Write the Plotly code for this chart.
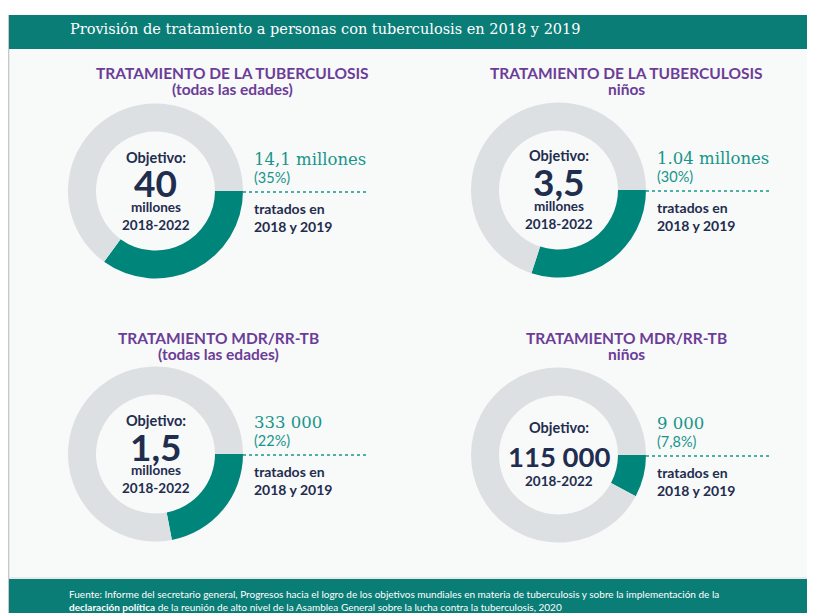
import plotly.graph_objects as go

# The page body adds an 8px margin, so the figure is shrunk and coordinates are shifted.
OFF = 8
W, H = 815 - 2 * OFF, 613 - OFF

# ---- data ----
titles = ["TRATAMIENTO DE LA TUBERCULOSIS", "TRATAMIENTO DE LA TUBERCULOSIS",
          "TRATAMIENTO MDR/RR-TB", "TRATAMIENTO MDR/RR-TB"]
subtitles = ["(todas las edades)", "niños", "(todas las edades)", "niños"]
targets = ["40", "3,5", "1,5", "115 000"]
target_units = ["millones", "millones", "millones", ""]
target_periods = ["2018-2022", "2018-2022", "2018-2022", "2018-2022"]
treated_labels = ["14,1 millones", "1.04 millones", "333 000", "9 000"]
pct_labels = ["(35%)", "(30%)", "(22%)", "(7,8%)"]
pct_values = [35, 30, 22, 7.8]
treated_text = ["tratados en<br>2018 y 2019"] * 4

header = "Provisión de tratamiento a personas con tuberculosis en 2018 y 2019"
footer = ("Fuente: Informe del secretario general, Progresos hacia el logro de los objetivos mundiales "
          "en materia de tuberculosis y sobre la implementación de la<br><b>declaración política</b> "
          "de la reunión de alto nivel de la Asamblea General sobre la lucha contra la tuberculosis, 2020")

# ---- style ----
TEAL = "#00857a"
TEAL_HDR = "#0b7d77"
TEAL_TXT = "#17958a"
GREY = "#dde0e2"
PURPLE = "#6b3d98"
NAVY = "#1f2d4e"
BG = "#f8f9f9"
SANS = "Lato, 'Open Sans', sans-serif"
SLAB = "'DejaVu Serif', serif"

# panel geometry (window pixels): donut centre, radius, title centre x, title y
centers = [(155.5, 191), (558.5, 190), (155.5, 454), (558.5, 455)]
R = 87.5
title_x = [232, 626, 218, 626]
title_y = [73, 338]


def fx(x):
    return (x - OFF) / W


def fy(y):
    return 1 - (y - OFF) / H


fig = go.Figure()
annotations = []
shapes = []

# background panels
shapes.append(dict(type="rect", xref="paper", yref="paper", x0=fx(9), x1=1, y0=0, y1=fy(15),
                   fillcolor=BG, line_width=0, layer="below"))
shapes.append(dict(type="line", xref="paper", yref="paper", x0=fx(8.6), x1=fx(8.6), y0=0, y1=fy(15),
                   line=dict(color="#c8c8c8", width=1.5), layer="below"))
shapes.append(dict(type="rect", xref="paper", yref="paper", x0=fx(9), x1=1, y0=fy(49), y1=fy(15),
                   fillcolor=TEAL_HDR, line_width=0, layer="below"))
shapes.append(dict(type="rect", xref="paper", yref="paper", x0=fx(9), x1=1, y0=0, y1=fy(579),
                   fillcolor=TEAL_HDR, line_width=0, layer="below"))
shapes.append(dict(type="line", xref="paper", yref="paper", x0=fx(9), x1=1, y0=fy(578), y1=fy(578),
                   line=dict(color="#d5d8d8", width=1), layer="below"))

annotations.append(dict(text=header, x=fx(68), y=fy(29), xref="paper", yref="paper",
                        xanchor="left", yanchor="middle", showarrow=False,
                        font=dict(family=SLAB, size=14.5, color="white")))
annotations.append(dict(text=footer, x=fx(67), y=fy(600), xref="paper", yref="paper",
                        xanchor="left", yanchor="middle", showarrow=False, align="left",
                        font=dict(family=SANS, size=10, color="white")))

for i in range(4):
    cx, cy = centers[i]
    row = 0 if i < 2 else 1
    fig.add_trace(go.Pie(
        values=[pct_values[i], 100 - pct_values[i]],
        labels=["tratados", "restante"],
        marker=dict(colors=[TEAL, GREY], line=dict(width=0)),
        hole=0.68, sort=False, direction="clockwise", rotation=90,
        textinfo="none", hoverinfo="skip", showlegend=False,
        domain=dict(x=[fx(cx - R), fx(cx + R)], y=[fy(cy + R), fy(cy - R)]),
    ))
    # titles
    annotations.append(dict(text="<b>" + titles[i] + "</b>", x=fx(title_x[i]), y=fy(title_y[row]),
                            xref="paper", yref="paper", showarrow=False, xanchor="center", yanchor="middle",
                            font=dict(family=SANS, size=15.5, color=PURPLE)))
    annotations.append(dict(text="<b>" + subtitles[i] + "</b>", x=fx(title_x[i]), y=fy(title_y[row] + 16),
                            xref="paper", yref="paper", showarrow=False, xanchor="center", yanchor="middle",
                            font=dict(family=SANS, size=15.5, color=PURPLE)))
    # centre text
    if target_units[i]:
        oy, ty, uy, py_ = cy - 34, cy - 8, cy + 16, cy + 34
        tsize = 37
    else:
        oy, ty, py_ = cy - 28, cy + 1, cy + 26
        tsize = 27.5
    annotations.append(dict(text="<b>Objetivo:</b>", x=fx(cx), y=fy(oy), xref="paper", yref="paper",
                            showarrow=False, xanchor="center", yanchor="middle",
                            font=dict(family=SANS, size=14.5, color=NAVY)))
    annotations.append(dict(text="<b>" + targets[i] + "</b>", x=fx(cx), y=fy(ty), xref="paper", yref="paper",
                            showarrow=False, xanchor="center", yanchor="middle",
                            font=dict(family=SANS, size=tsize, color=NAVY)))
    if target_units[i]:
        annotations.append(dict(text="<b>" + target_units[i] + "</b>", x=fx(cx), y=fy(uy), xref="paper",
                                yref="paper", showarrow=False, xanchor="center", yanchor="middle",
                                font=dict(family=SANS, size=13.5, color=NAVY)))
    annotations.append(dict(text="<b>" + target_periods[i] + "</b>", x=fx(cx), y=fy(py_), xref="paper",
                            yref="paper", showarrow=False, xanchor="center", yanchor="middle",
                            font=dict(family=SANS, size=13.5, color=NAVY)))
    # right side text
    lx = cx + R + 9
    annotations.append(dict(text=treated_labels[i], x=fx(lx), y=fy(cy - 32), xref="paper", yref="paper",
                            showarrow=False, xanchor="left", yanchor="middle",
                            font=dict(family=SLAB, size=16.5, color=TEAL_TXT)))
    annotations.append(dict(text=pct_labels[i], x=fx(lx), y=fy(cy - 14), xref="paper", yref="paper",
                            showarrow=False, xanchor="left", yanchor="middle",
                            font=dict(family=SANS, size=14.5, color=TEAL_TXT)))
    shapes.append(dict(type="line", xref="paper", yref="paper", x0=fx(cx + R), x1=fx(cx + R + 123),
                       y0=fy(cy + 1), y1=fy(cy + 1), line=dict(color=TEAL_TXT, width=1.5, dash="dot")))
    annotations.append(dict(text="<b>" + treated_text[i] + "</b>", x=fx(lx), y=fy(cy + 26), xref="paper",
                            yref="paper", showarrow=False, xanchor="left", yanchor="middle", align="left",
                            font=dict(family=SANS, size=14, color=NAVY)))

fig.update_layout(
    width=W, height=H, margin=dict(l=0, r=0, t=0, b=0),
    paper_bgcolor="white", plot_bgcolor="white",
    annotations=annotations, shapes=shapes,
)

fig.write_html("out.html")
